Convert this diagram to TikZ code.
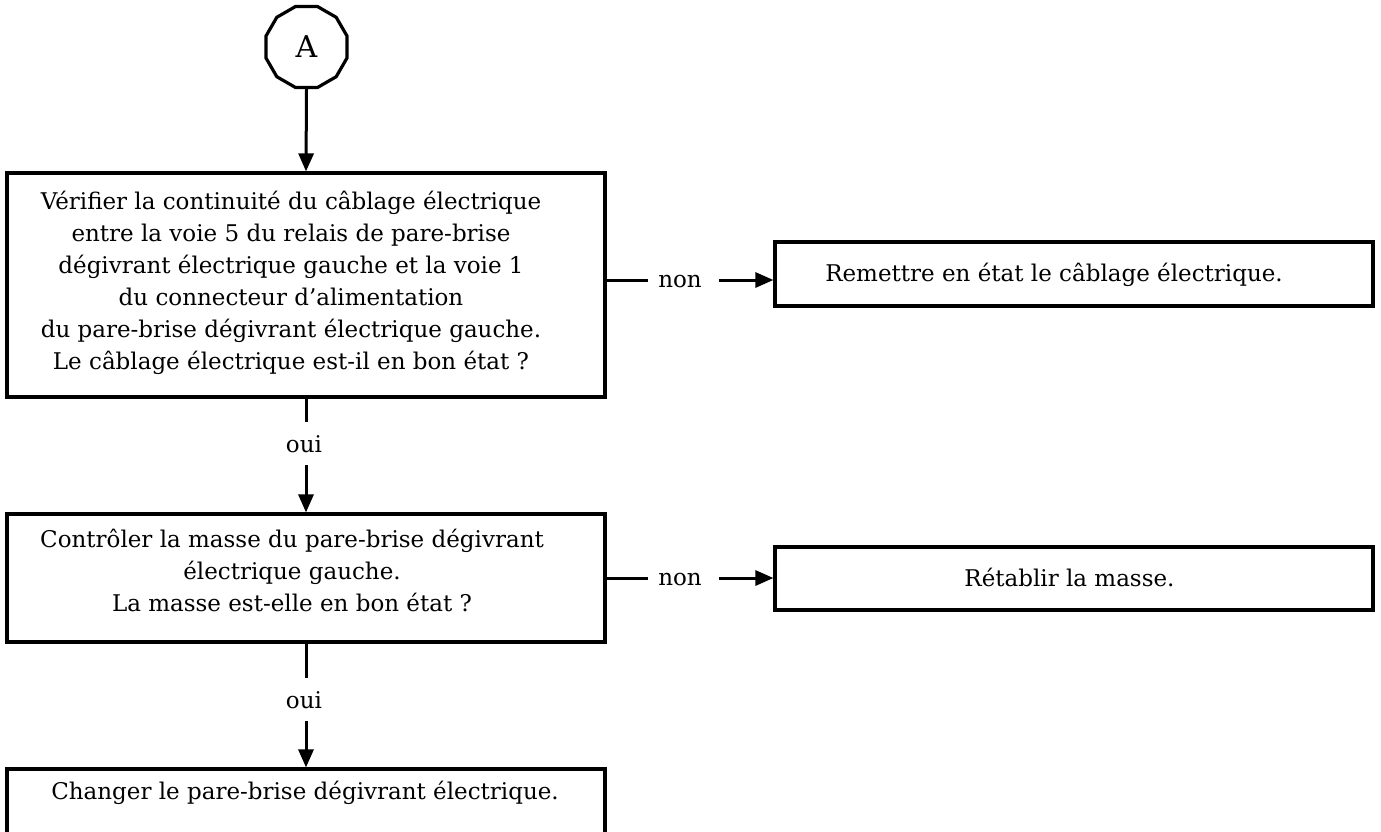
\documentclass[tikz,border=0pt]{standalone}
\usepackage{fontspec}
\setmainfont{DejaVu Serif}
\usetikzlibrary{arrows.meta,shapes.geometric}

\tikzset{
  box/.style={draw, line width=3.2pt, rectangle, inner sep=0pt, minimum width=598pt},
  txt/.style={align=center, inner sep=0pt, font=\fontsize{23}{32}\selectfont},
  lbl/.style={inner sep=0pt, anchor=base, font=\fontsize{23}{26}\selectfont},
  nonlbl/.style={inner sep=0pt, text height=14pt, text depth=0pt, font=\fontsize{23}{26}\selectfont},
  ouilbl/.style={inner sep=0pt, anchor=base, text height=30pt, text depth=13pt, font=\fontsize{23}{26}\selectfont},
  conn/.style={line width=3pt},
  arr/.style={conn, -{Triangle[length=18pt,width=15pt]}},
}

\begin{document}
\begin{tikzpicture}[x=1pt,y=-1pt]
\useasboundingbox (0,0) rectangle (1381,831);
\clip (0,0) rectangle (1381,831);

% start connector
\node[regular polygon, regular polygon sides=12, draw, line width=3.2pt,
      minimum size=84pt, inner sep=0pt, font=\fontsize{30}{32}\selectfont] (A) at (306.5,47) {A};

% main column of checks
\node[box, minimum height=224pt] (b1) at (306,285) {};
\node[box, minimum height=128pt] (b2) at (306,578) {};
\node[box, minimum height=72pt]  (b3) at (306,805) {};

% repair actions
\node[box, minimum height=64pt] (r1) at (1074,274) {};
\node[box, minimum height=63pt] (r2) at (1074,578.5) {};

% texts
\node[txt] (t1) at (291,283) {Vérifier la continuité du câblage électrique\\
  entre la voie 5 du relais de pare-brise\\
  dégivrant électrique gauche et la voie 1\\
  du connecteur d’alimentation\\
  du pare-brise dégivrant électrique gauche.\\
  Le câblage électrique est-il en bon état ?};
\node[txt] (t2) at (292,570) {Contrôler la masse du pare-brise dégivrant\\
  électrique gauche.\\
  La masse est-elle en bon état ?};
\node[lbl] (t3) at (305,799) {Changer le pare-brise dégivrant électrique.};
\node[lbl] (rt1) at (1054,281) {Remettre en état le câblage électrique.};
\node[lbl] (rt2) at (1069.5,586) {Rétablir la masse.};

% branch labels
\node[nonlbl] (n1) at (680,280) {non};
\node[nonlbl] (n2) at (680,578) {non};
\node[ouilbl] (o1) at (304,452) {oui};
\node[ouilbl] (o2) at (304,708) {oui};

% connectors
\draw[arr] (A.south) -- (b1.north);

\draw[conn] (b1.east |- n1.west) -- ([xshift=-10pt]n1.west);
\draw[arr] ([xshift=17pt]n1.east) -- (r1.west |- n1.east);
\draw[conn] (b2.east |- n2.west) -- ([xshift=-10pt]n2.west);
\draw[arr] ([xshift=17pt]n2.east) -- (r2.west |- n2.east);

\draw[conn] (b1.south) -- (b1.south |- o1.north);
\draw[arr] (b2.north |- o1.south) -- (b2.north);
\draw[conn] (b2.south) -- (b2.south |- o2.north);
\draw[arr] (b3.north |- o2.south) -- (b3.north);
\end{tikzpicture}
\end{document}
